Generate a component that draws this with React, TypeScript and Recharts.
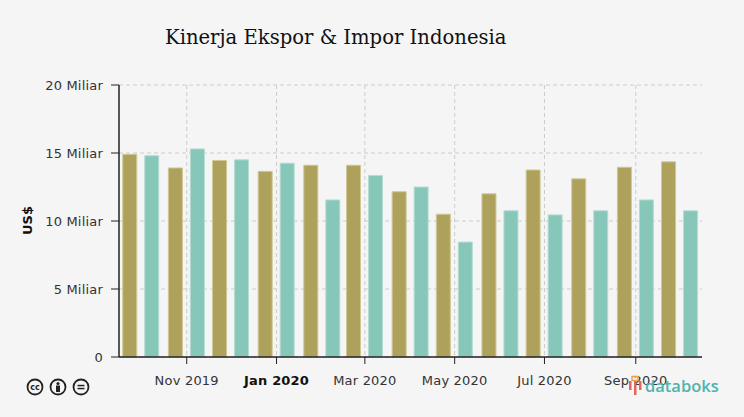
import React from "react";
import { BarChart, Bar, XAxis, YAxis, CartesianGrid } from "recharts";

const months = ["2019-10-01","2019-11-01","2019-12-01","2020-01-01","2020-02-01","2020-03-01","2020-04-01","2020-05-01","2020-06-01","2020-07-01","2020-08-01","2020-09-01","2020-10-01"];
const ekspor = [14.9,13.9,14.45,13.65,14.1,14.1,12.15,10.5,12.0,13.75,13.1,13.95,14.35];
const impor = [14.8,15.3,14.5,14.25,11.55,13.35,12.5,8.45,10.75,10.45,10.75,11.55,10.75];
const yTicks = [0,5,10,15,20];
const xTickDates = ["2019-11-01","2020-01-01","2020-03-01","2020-05-01","2020-07-01","2020-09-01"];
const xTickLabels = ["Nov 2019","Jan 2020","Mar 2020","May 2020","Jul 2020","Sep 2020"];
const domainStart = "2019-09-16";
const domainEnd = "2020-10-16";

const ts = (d: string) => Date.parse(d + "T00:00:00Z");
const data = months.map((m, i) => ({ t: ts(m), ekspor: ekspor[i], impor: impor[i] }));
const xTicks = xTickDates.map(ts);

const FONT = "'DejaVu Sans', Verdana, sans-serif";

const XTick = (p: any) => {
  const i = xTicks.indexOf(p.payload.value);
  const label = xTickLabels[i];
  const bold = label === "Jan 2020";
  return (
    <text x={p.x} y={385} textAnchor="middle" fontFamily={FONT} fontSize={13} letterSpacing={0.2} fill={bold ? "#111" : "#333"} fontWeight={bold ? 700 : 400}>
      {label}
    </text>
  );
};

const Cc = ({ x, children }: { x: number; children: React.ReactNode }) => (
  <g transform={`translate(${x},387)`}>
    <circle r={7.5} fill="none" stroke="#222" strokeWidth={1.8} />
    {children}
  </g>
);

export default function App() {
  return (
    <div style={{ position: "absolute", left: 0, top: 0, width: 744, height: 417, background: "#f5f5f5", overflow: "hidden" }}>
      <BarChart width={744} height={417} data={data} margin={{ top: 85, right: 42, bottom: 0, left: 0 }} barSize={14} barGap={8}>
        <CartesianGrid stroke="#cccccc" strokeDasharray="4 3" strokeWidth={1} syncWithTicks />
        <XAxis
          dataKey="t"
          type="number"
          scale="linear"
          domain={[ts(domainStart), ts(domainEnd)]}
          ticks={xTicks}
          height={60}
          tick={<XTick />}
          tickLine={{ stroke: "#222", strokeWidth: 1 }}
          tickSize={7}
          axisLine={{ stroke: "#222", strokeWidth: 1.5 }}
          allowDataOverflow
          interval={0}
        />
        <YAxis
          type="number"
          domain={[0, 20]}
          ticks={yTicks}
          width={119}
          tickFormatter={(v: number) => (v === 0 ? "0" : `${v} Miliar`)}
          tick={{ fontFamily: FONT, fontSize: 13, letterSpacing: 0.2, fill: "#333" }}
          tickLine={{ stroke: "#222", strokeWidth: 1 }}
          tickSize={8}
          tickMargin={8}
          axisLine={{ stroke: "#222", strokeWidth: 1.5 }}
          label={{ value: "US$", angle: -90, position: "insideLeft", dx: 22, dy: 14, style: { fontFamily: FONT, fontSize: 13, fontWeight: 700, fill: "#111" } }}
        />
        <Bar dataKey="ekspor" fill="#ada15c" stroke="#cfc896" isAnimationActive={false} />
        <Bar dataKey="impor" fill="#87c7ba" stroke="#b5dcd3" isAnimationActive={false} />
      </BarChart>
      <svg width={744} height={417} style={{ position: "absolute", left: 0, top: 0, pointerEvents: "none" }}>
        <text x={165} y={44} fontFamily="'DejaVu Serif', serif" fontSize={19.6} fill="#111">Kinerja Ekspor &amp; Impor Indonesia</text>
        <Cc x={35}>
          <text y={3} textAnchor="middle" fontFamily={FONT} fontSize={8} fontWeight={700} fill="#222">cc</text>
        </Cc>
        <Cc x={58}>
          <circle cy={-3.5} r={1.6} fill="#222" />
          <rect x={-2} y={-1.5} width={4} height={6.5} fill="#222" />
        </Cc>
        <Cc x={81}>
          <rect x={-3.5} y={-2.2} width={7} height={1.5} fill="#222" />
          <rect x={-3.5} y={0.8} width={7} height={1.5} fill="#222" />
        </Cc>
        <g>
          <rect x={629} y={381} width={2.5} height={9} fill="#e2675c" />
          <rect x={634} y={381} width={2.5} height={14} fill="#e2675c" />
          <rect x={639} y={381} width={2.5} height={9} fill="#e2675c" />
          <rect x={632} y={376.5} width={6} height={4} fill="none" stroke="#eda24f" strokeWidth={1.5} />
        </g>
        <text x={645} y={392} fontFamily="'Open Sans', sans-serif" fontSize={16.5} fontWeight={600} fill="#4fb3b0">databoks</text>
      </svg>
    </div>
  );
}
